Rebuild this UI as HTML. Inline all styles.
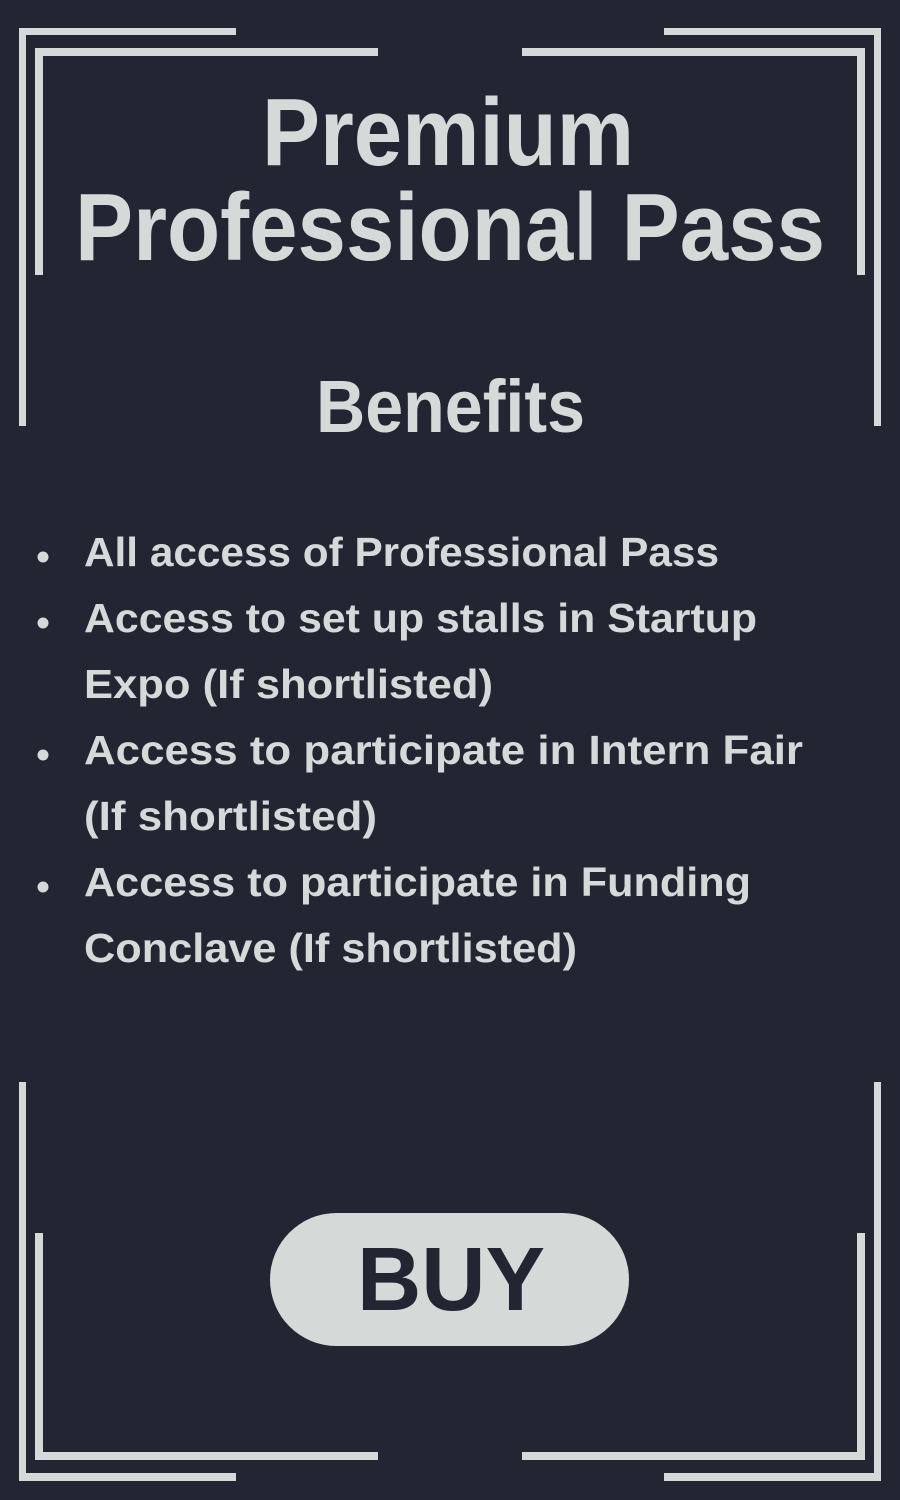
<!DOCTYPE html>
<html><head><meta charset="utf-8"><style>
html,body{margin:0;padding:0;background:#232533;}
svg{display:block;}
text{font-family:"Liberation Sans",sans-serif;font-weight:bold;fill:#d5d9d8;}
</style></head><body>
<svg width="900" height="1500" viewBox="0 0 900 1500">
<rect width="900" height="1500" fill="#232533"/>
<g fill="#d5d9d8">
 <rect x="19" y="28" width="217" height="7"/><rect x="19" y="28" width="7" height="398"/>
 <rect x="35" y="48" width="343" height="8"/><rect x="35" y="48" width="8" height="227"/>
 <rect x="664" y="28" width="217" height="7"/><rect x="874" y="28" width="7" height="398"/>
 <rect x="522" y="48" width="343" height="8"/><rect x="857" y="48" width="8" height="227"/>
 <rect x="19" y="1082" width="7" height="399"/><rect x="19" y="1473" width="217" height="8"/>
 <rect x="35" y="1233" width="8" height="227"/><rect x="35" y="1452" width="343" height="8"/>
 <rect x="874" y="1082" width="7" height="399"/><rect x="664" y="1473" width="217" height="8"/>
 <rect x="857" y="1233" width="8" height="227"/><rect x="522" y="1452" width="343" height="8"/>
</g>
<text x="262" y="165" font-size="96" textLength="372" lengthAdjust="spacingAndGlyphs">Premium</text>
<text x="75" y="260" font-size="96" textLength="750" lengthAdjust="spacingAndGlyphs">Professional Pass</text>
<text x="316" y="432" font-size="74" textLength="269" lengthAdjust="spacingAndGlyphs">Benefits</text>
<g>
 <circle cx="43" cy="557" r="5.5" fill="#d5d9d8"/>
 <circle cx="43" cy="623" r="5.5" fill="#d5d9d8"/>
 <circle cx="43" cy="755" r="5.5" fill="#d5d9d8"/>
 <circle cx="43" cy="887" r="5.5" fill="#d5d9d8"/>
 <text x="84" y="566" font-size="41" textLength="635" lengthAdjust="spacingAndGlyphs">All access of Professional Pass</text>
 <text x="84" y="632" font-size="41" textLength="673" lengthAdjust="spacingAndGlyphs">Access to set up stalls in Startup</text>
 <text x="84" y="698" font-size="41" textLength="409" lengthAdjust="spacingAndGlyphs">Expo (If shortlisted)</text>
 <text x="84" y="764" font-size="41" textLength="719" lengthAdjust="spacingAndGlyphs">Access to participate in Intern Fair</text>
 <text x="84" y="830" font-size="41" textLength="293" lengthAdjust="spacingAndGlyphs">(If shortlisted)</text>
 <text x="84" y="896" font-size="41" textLength="667" lengthAdjust="spacingAndGlyphs">Access to participate in Funding</text>
 <text x="84" y="962" font-size="41" textLength="493" lengthAdjust="spacingAndGlyphs">Conclave (If shortlisted)</text>
</g>
<g>
 <rect x="270" y="1213" width="359" height="133" rx="66.5" fill="#d5d9d8"/>
 <text x="357" y="1310" font-size="90" textLength="188" lengthAdjust="spacingAndGlyphs" style="fill:#232533">BUY</text>
</g>
</svg>
</body></html>
